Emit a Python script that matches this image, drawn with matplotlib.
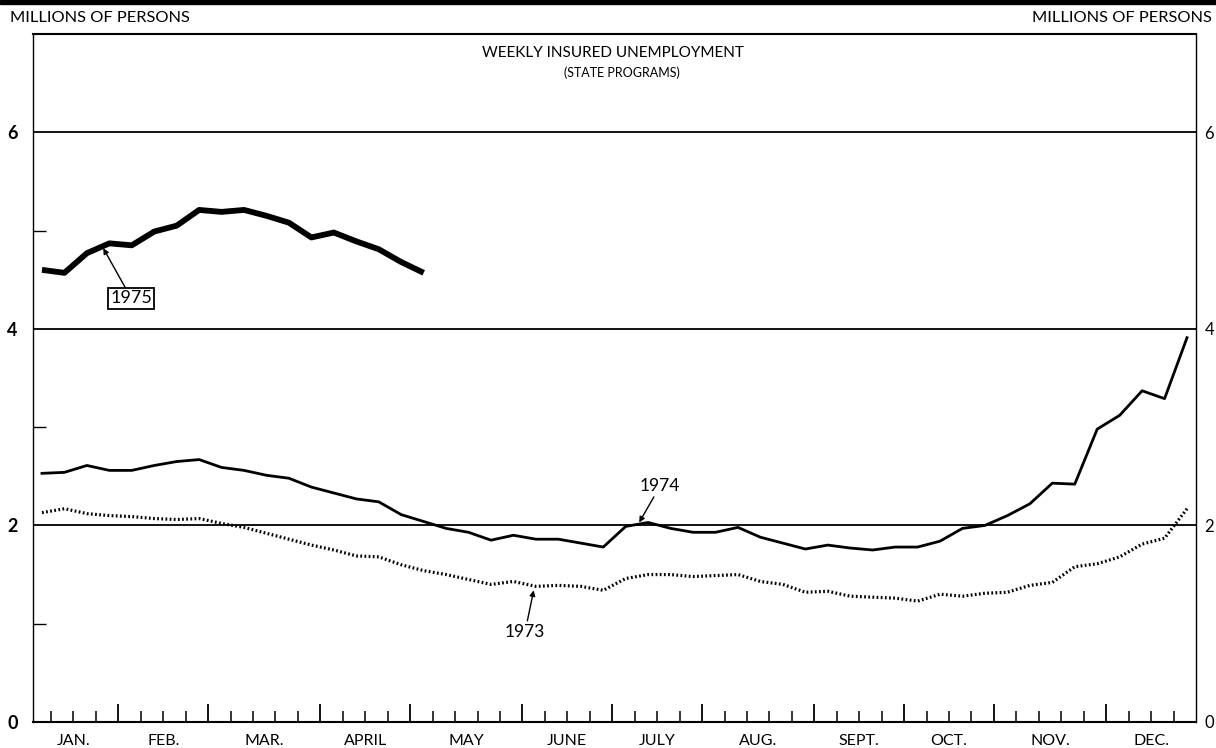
import numpy as np
import matplotlib
matplotlib.use("Agg")
import matplotlib.pyplot as plt
from matplotlib.patches import Rectangle

# ---- data (millions of persons, weekly) ----
months = ["JAN.", "FEB.", "MAR.", "APRIL", "MAY", "JUNE",
          "JULY", "AUG.", "SEPT.", "OCT.", "NOV.", "DEC."]
weeks_per_month = [4, 4, 5, 4, 5, 4, 4, 5, 4, 4, 5, 4]

y1973 = [2.13, 2.17, 2.12, 2.10, 2.09, 2.07, 2.06, 2.07, 2.02, 1.98,
         1.92, 1.86, 1.80, 1.75, 1.69, 1.68, 1.60, 1.54, 1.50, 1.45,
         1.40, 1.43, 1.38, 1.39, 1.38, 1.34, 1.46, 1.50, 1.50, 1.48,
         1.49, 1.50, 1.43, 1.40, 1.32, 1.33, 1.28, 1.27, 1.26, 1.23,
         1.30, 1.28, 1.31, 1.32, 1.39, 1.42, 1.58, 1.61, 1.68, 1.81,
         1.87, 2.17]

y1974 = [2.53, 2.54, 2.61, 2.56, 2.56, 2.61, 2.65, 2.67, 2.59, 2.56,
         2.51, 2.48, 2.39, 2.33, 2.27, 2.24, 2.11, 2.04, 1.97, 1.93,
         1.85, 1.90, 1.86, 1.86, 1.82, 1.78, 1.99, 2.03, 1.97, 1.93,
         1.93, 1.98, 1.88, 1.82, 1.76, 1.80, 1.77, 1.75, 1.78, 1.78,
         1.84, 1.97, 2.00, 2.10, 2.22, 2.43, 2.42, 2.98, 3.12, 3.37,
         3.29, 3.91]

y1975 = [4.60, 4.57, 4.77, 4.87, 4.85, 4.99, 5.05, 5.21, 5.19, 5.21,
         5.15, 5.08, 4.93, 4.98, 4.89, 4.81, 4.68, 4.57]

y_labels = [0, 2, 4, 6]

# ---- figure ----
FONT = ["Lato", "DejaVu Sans"]
plt.rcParams["font.family"] = FONT

fig = plt.figure(figsize=(12.16, 7.48), dpi=100)
ax = fig.add_axes([33 / 1216, 1 - 722 / 748, (1196 - 33) / 1216, (722 - 34) / 748])

week_offset = 0.6
x73 = np.arange(len(y1973)) + week_offset
x74 = np.arange(len(y1974)) + week_offset
x75 = np.arange(len(y1975)) + week_offset

ax.plot(x73, y1973, color="black", lw=2.3, linestyle=(0, (0.55, 0.75)),
        dash_capstyle="butt", zorder=3)
ax.plot(x74, y1974, color="black", lw=2.0, zorder=3, solid_joinstyle="round")
ax.plot(x75, y1975, color="black", lw=4.2, zorder=3, solid_joinstyle="round",
        solid_capstyle="butt")

total_weeks = sum(weeks_per_month)
ax.set_xlim(0.2, total_weeks)
ax.set_ylim(0, 7)

# horizontal rules
for g in [2, 4, 6]:
    ax.axhline(g, color="black", lw=1.3, zorder=2)

# y ticks on both sides
ax.set_yticks(y_labels)
ax.set_yticklabels([str(v) for v in y_labels], fontsize=13, fontweight="bold")
ax.set_yticks([1, 3, 5], minor=True)
ax.tick_params(axis="y", which="major", length=0, pad=11, left=True,
               labelleft=True, right=False, labelright=False)
ax.tick_params(axis="y", which="minor", direction="in", length=9, width=1,
               left=True, right=True)

ax_r = ax.twinx()
ax_r.set_ylim(0, 7)
ax_r.set_yticks(y_labels)
ax_r.set_yticklabels([str(v) for v in y_labels], fontsize=12)
ax_r.tick_params(axis="y", length=0, pad=6)
for sp in ax_r.spines.values():
    sp.set_visible(False)

# x ticks: month boundaries long, weeks short
bounds = np.cumsum(weeks_per_month)[:-1]
week_ticks = [w for w in range(1, total_weeks) if w not in set(bounds)]
ax.set_xticks(week_ticks, minor=True)
ax.set_xticks(list(bounds))
ax.set_xticklabels([])
ax.tick_params(axis="x", which="major", direction="in", length=13, width=1.3,
               top=False)
ax.tick_params(axis="x", which="minor", direction="in", length=8, width=1.1,
               top=False)

starts = np.concatenate([[0], bounds])
ends = np.concatenate([bounds, [total_weeks]])
for m, s, e in zip(months, starts, ends):
    ax.text((s + e) / 2, -0.12, m, ha="center", va="top", fontsize=11.5,
            transform=ax.transData)

for sp in ax.spines.values():
    sp.set_color("black")
    sp.set_linewidth(1.0)
ax.spines["bottom"].set_linewidth(1.5)
ax.spines["top"].set_linewidth(1.5)

# titles
fig.text(613 / 1216, 1 - 53 / 748, "WEEKLY INSURED UNEMPLOYMENT", ha="center",
         va="center", fontsize=11)
fig.text(622 / 1216, 1 - 73 / 748, "(STATE PROGRAMS)", ha="center",
         va="center", fontsize=9)
fig.text(10 / 1216, 1 - 18 / 748, "MILLIONS OF PERSONS", ha="left",
         va="center", fontsize=11.8)
fig.text(1212 / 1216, 1 - 18 / 748, "MILLIONS OF PERSONS", ha="right",
         va="center", fontsize=11.8)

# top dark band
fig.patches.append(Rectangle((0, 1 - 4 / 748), 1, 4 / 748,
                             transform=fig.transFigure, color="black"))

# annotations
arrow = dict(arrowstyle="-|>", color="black", lw=1.0, mutation_scale=8,
             shrinkA=0, shrinkB=0)
ax.annotate("1975", xy=(3.33, 4.82), xytext=(4.58, 4.31), ha="center",
            va="center", fontsize=13,
            bbox=dict(boxstyle="square,pad=0.12", fc="white", ec="black", lw=1.3),
            arrowprops=arrow)
ax.annotate("1974", xy=(27.2, 2.03), xytext=(28.13, 2.40), ha="center",
            va="center", fontsize=12.5, arrowprops=arrow)
ax.annotate("1973", xy=(22.5, 1.34), xytext=(22.12, 0.92), ha="center",
            va="center", fontsize=12.5, arrowprops=arrow)

fig.savefig("out.png", dpi=100)
